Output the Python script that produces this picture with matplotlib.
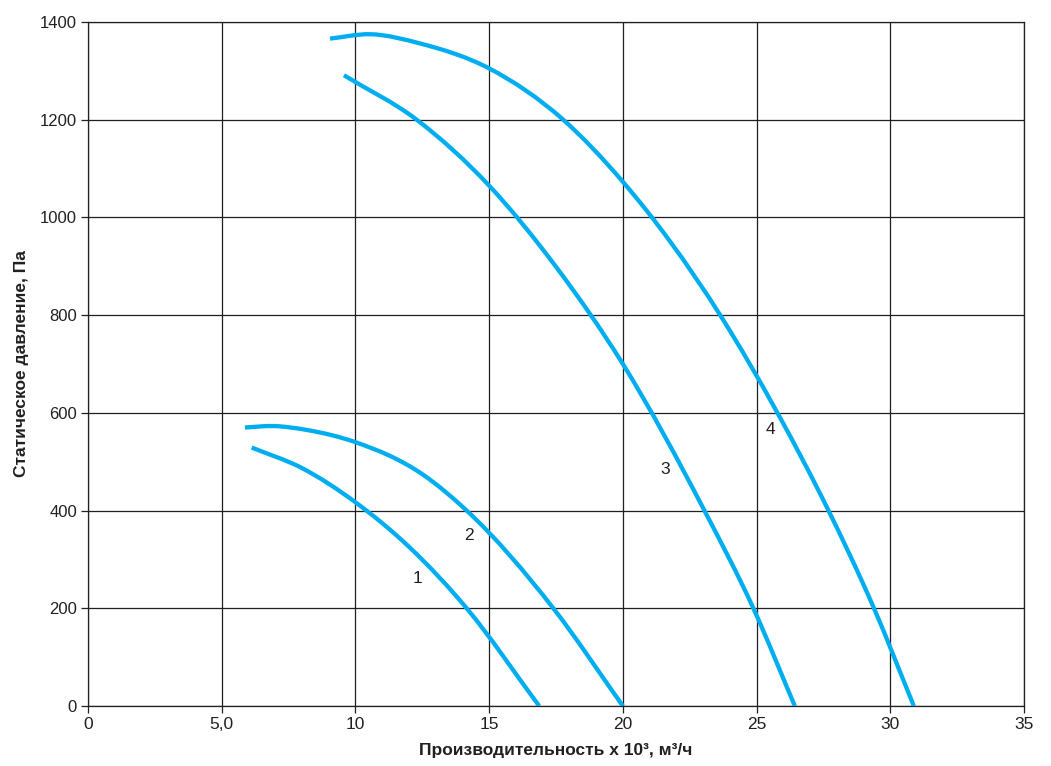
import numpy as np
import matplotlib
matplotlib.use("Agg")
import matplotlib.pyplot as plt
from matplotlib.path import Path
from matplotlib.patches import PathPatch

# fan curves: flow (x 10^3 m3/h) vs static pressure (Pa)
q1 = [6.12, 8.0, 10.0, 12.0, 14.16, 16.87]
p1 = [529, 487, 417, 326, 200, 0]

q2 = [5.87, 6.93, 8.18, 10.0, 12.54, 14.16, 17.4, 20.0]
p2 = [570, 573, 565, 540, 473, 400, 200, 0]

q3 = [9.57, 12.29, 15.0, 17.5, 20.0, 23.05, 24.88, 26.43]
p3 = [1291, 1200, 1065, 899, 700, 400, 200, 0]

q4 = [9.05, 10.55, 12.42, 15.0, 17.77, 20.0, 23.64, 25.78, 27.69, 29.39, 30.88]
p4 = [1366, 1375, 1356, 1305, 1200, 1073, 800, 600, 400, 200, 0]

curve_names = ["1", "2", "3", "4"]
label_x = [12.31, 14.26, 21.57, 25.52]
label_y = [260, 348, 484, 565]

x_ticks = [0, 5, 10, 15, 20, 25, 30, 35]
x_tick_labels = ["0", "5,0", "10", "15", "20", "25", "30", "35"]
y_ticks = [0, 200, 400, 600, 800, 1000, 1200, 1400]

blue = "#00AEEF"
ink = "#231f20"
narrow = ["Liberation Sans Narrow", "Liberation Sans", "DejaVu Sans"]
regular = ["Liberation Sans", "DejaVu Sans"]


def smooth_path(xs, ys):
    # cubic Hermite through the read points (x as parameter), as Bezier segments
    x = np.asarray(xs, float)
    y = np.asarray(ys, float)
    n = len(x)
    m = np.empty(n)
    m[0] = (y[1] - y[0]) / (x[1] - x[0])
    m[-1] = (y[-1] - y[-2]) / (x[-1] - x[-2])
    for i in range(1, n - 1):
        h0, h1 = x[i] - x[i - 1], x[i + 1] - x[i]
        d0, d1 = (y[i] - y[i - 1]) / h0, (y[i + 1] - y[i]) / h1
        m[i] = (h1 * d0 + h0 * d1) / (h0 + h1)
    verts = [(x[0], y[0])]
    codes = [Path.MOVETO]
    for i in range(n - 1):
        h = x[i + 1] - x[i]
        verts += [(x[i] + h / 3, y[i] + m[i] * h / 3),
                  (x[i + 1] - h / 3, y[i + 1] - m[i + 1] * h / 3),
                  (x[i + 1], y[i + 1])]
        codes += [Path.CURVE4] * 3
    return Path(verts, codes)


fig = plt.figure(figsize=(10.51, 7.66), dpi=100)
ax = fig.add_axes([88 / 1051, 1 - 706 / 766, (1024 - 88) / 1051, (706 - 22) / 766])

for q, p in [(q1, p1), (q2, p2), (q3, p3), (q4, p4)]:
    ax.add_patch(PathPatch(smooth_path(q, p), facecolor="none", edgecolor=blue,
                           linewidth=3.1, capstyle="butt", zorder=3))

for name, lx, ly in zip(curve_names, label_x, label_y):
    ax.text(lx, ly, name, fontsize=12.5, color=ink, family=regular,
            ha="center", va="center", zorder=4)

ax.set_xlim(0, 35)
ax.set_ylim(0, 1400)
ax.set_xticks(x_ticks)
ax.set_xticklabels(x_tick_labels, family=narrow, fontsize=12.5)
ax.set_yticks(y_ticks)
ax.set_yticklabels([str(v) for v in y_ticks], family=regular, fontsize=12)

ax.grid(True, color=ink, linewidth=0.9)
ax.set_axisbelow(True)
for s in ax.spines.values():
    s.set_color(ink)
    s.set_linewidth(0.9)
ax.tick_params(direction="out", length=5, width=0.9, color=ink, labelcolor=ink, pad=3)

ax.set_xlabel("Производительность x 10³, м³/ч", family=narrow, fontsize=12.5,
              fontweight="bold", color=ink, labelpad=8)
ax.set_ylabel("Статическое давление, Па", family=regular, fontsize=12.5,
              fontweight="bold", color=ink, labelpad=8)

fig.savefig("out.png", dpi=100)
